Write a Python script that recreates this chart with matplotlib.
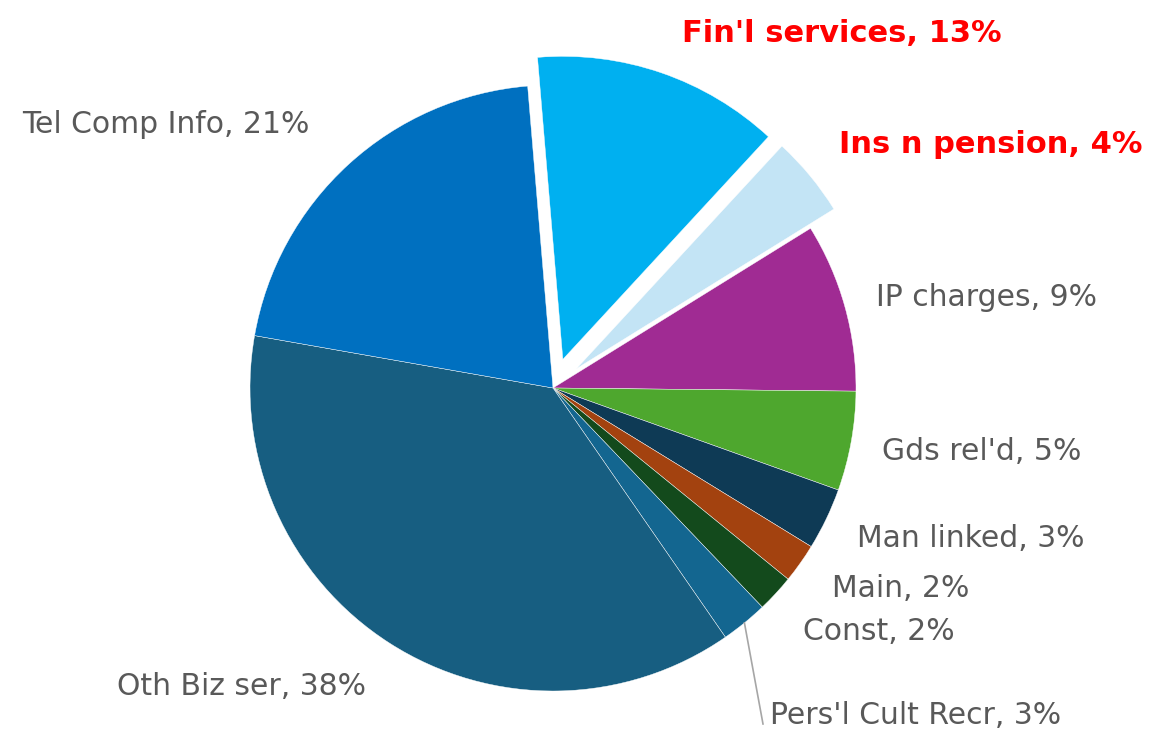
import numpy as np
import matplotlib.pyplot as plt
import matplotlib as mpl

mpl.rcParams["font.family"] = ["DejaVu Sans"]

# 데이터 (시계 방향, 위쪽에서 시작)
categories = ["Fin'l services", "Ins n pension", "IP charges", "Gds rel'd",
              "Man linked", "Main", "Const", "Pers'l Cult Recr",
              "Oth Biz ser", "Tel Comp Info"]
shares = [13.2, 4.3, 9.0, 5.3, 3.3, 2.1, 2.0, 2.5, 37.4, 20.9]
shown_pct = [13, 4, 9, 5, 3, 2, 2, 3, 38, 21]

colors = ["#00B0F0", "#C3E4F5", "#A02B93", "#4EA72E", "#0E3A55",
          "#A3420F", "#134A1C", "#136690", "#175E81", "#0070C0"]
explode = [0.1, 0.1, 0, 0, 0, 0, 0, 0, 0, 0]
highlight = {"Fin'l services", "Ins n pension"}

# 라벨 위치 (픽셀: 왼쪽 x, 기준선 y)
label_px = [(682, 42), (839, 153), (876, 306), (882, 460), (857, 547),
            (832, 597), (803, 640), (770, 724), (117, 695), (22, 133)]

W, H = 1165, 730
CX, CY, R = 553, 388, 303


def to_data(x, y):
    return (x - CX) / R, (CY - y) / R


fig = plt.figure(figsize=(W / 100, H / 100), dpi=100)
ax = fig.add_axes([0, 0, 1, 1])

wedges, _ = ax.pie(shares, colors=colors, explode=explode, startangle=94.8,
                   counterclock=False,
                   wedgeprops=dict(edgecolor="white", linewidth=0.3))

ax.set_xlim(-CX / R, (W - CX) / R)
ax.set_ylim(-(H - CY) / R, CY / R)
ax.set_aspect("auto")
ax.axis("off")

for name, pct, (lx, ly) in zip(categories, shown_pct, label_px):
    x, y = to_data(lx, ly)
    if name in highlight:
        ax.text(x, y, f"{name}, {pct}%", color="#FF0000", fontsize=22,
                fontweight="bold", ha="left", va="baseline")
    else:
        ax.text(x, y, f"{name}, {pct}%", color="#595959", fontsize=21.5,
                ha="left", va="baseline")

# Pers'l Cult Recr 지시선
w = wedges[categories.index("Pers'l Cult Recr")]
mid = np.deg2rad((w.theta1 + w.theta2) / 2)
sx, sy = np.cos(mid), np.sin(mid)
ex, ey = to_data(763, 724)
ax.plot([sx, ex], [sy, ey], color="#A6A6A6", linewidth=1.2)

fig.savefig("out.png", dpi=100)
